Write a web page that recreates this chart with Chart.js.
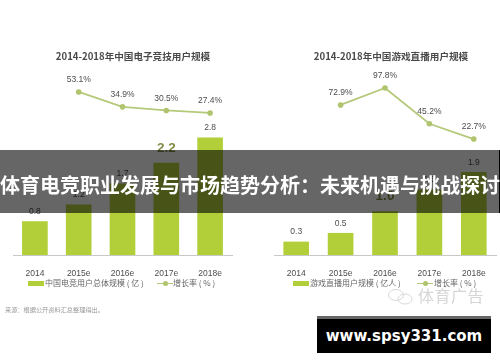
<!DOCTYPE html>
<html lang="zh-CN">
<head>
    <meta charset="UTF-8">
    <title>体育电竞职业发展与市场趋势分析</title>
    <script src="https://cdn.jsdelivr.net/npm/chart.js"></script>
    <style>
        html, body { margin: 0; padding: 0; background: #fff; }
        #page {
            position: relative; width: 500px; height: 362px; overflow: hidden;
            font-family: "Noto Sans CJK SC", "Noto Sans", sans-serif;
            filter: blur(0.4px);
        }
        canvas { position: absolute; top: 0; }
        .txt { position: absolute; white-space: nowrap; transform: translateY(-50%); line-height: 1; }
        .title { font-size: 9.6px; font-weight: 700; color: #4a4a4a; transform: translate(-50%, -50%); }
        .legend { font-size: 8px; color: #666; }
        .swatch { position: absolute; height: 5px; width: 16px; background: #b2cf3a; }
        .lineKey { position: absolute; height: 1.5px; width: 16px; background: #b5c97a; }
        .lineKey::after {
            content: ""; position: absolute; left: 5.5px; top: -2px; width: 5px; height: 5px;
            border-radius: 50%; background: #afc46c;
        }
        #band { position: absolute; left: 0; top: 150px; width: 500px; height: 63px; background: rgba(0, 0, 0, 0.6); }
        #bandEdge { position: absolute; left: 499px; top: 150px; width: 1px; height: 63px; background: #000; }
        #bandText {
            position: absolute; left: 0; top: 185px; width: 500px; text-align: center;
            font-size: 20px; font-weight: 700; color: #fff; line-height: 1; transform: translateY(-50%);
            white-space: nowrap;
        }
        #url {
            position: absolute; left: 317px; top: 316px; width: 174px; height: 34px;
            border-top: 3px solid #666; background: #000; color: #fff; text-align: center;
            font: 700 15px/34px "DejaVu Sans", sans-serif;
        }
        #mark { position: absolute; left: 418px; top: 295px; font-size: 16px; color: #d6d6d6; letter-spacing: 0.5px; line-height: 1; transform: translateY(-50%); white-space: nowrap; }
    </style>
</head>
<body>
<div id="page">
    <canvas id="leftChart" width="250" height="362" style="left:0"></canvas>
    <canvas id="rightChart" width="250" height="362" style="left:250px"></canvas>

    <div class="txt title" style="left:133px;top:57px">2014-2018年中国电子竞技用户规模</div>
    <div class="txt title" style="left:391px;top:57px">2014-2018年中国游戏直播用户规模</div>

    <div class="swatch" style="left:28px;top:281px"></div>
    <div class="txt legend" style="left:45px;top:283px">中国电竞用户总体规模 ( 亿 )</div>
    <div class="lineKey" style="left:157px;top:282.5px"></div>
    <div class="txt legend" style="left:173px;top:283px">增长率 ( % )</div>

    <div class="swatch" style="left:293px;top:281px"></div>
    <div class="txt legend" style="left:310px;top:283px">游戏直播用户规模 ( 亿人 )</div>
    <div class="lineKey" style="left:417px;top:282.5px"></div>
    <div class="txt legend" style="left:434px;top:283px">增长率 ( % )</div>

    <div class="txt" style="left:5px;top:310px;font-size:6.2px;color:#999">来源：根据公开资料汇总整理得出。</div>

    <svg style="position:absolute;left:387px;top:288px" width="28" height="18" fill="none" stroke="#d8d8d8" stroke-width="1">
        <ellipse cx="9" cy="7" rx="7.5" ry="5.5"/>
        <ellipse cx="18" cy="11" rx="7" ry="5"/>
    </svg>
    <div id="mark">体育广告</div>

    <div id="band"></div>
    <div id="bandEdge"></div>
    <div id="bandText">体育电竞职业发展与市场趋势分析：未来机遇与挑战探讨</div>
    <div id="url">www.spsy331.com</div>
</div>

<script>
    const categories = ["2014", "2015e", "2016e", "2017e", "2018e"];

    const esportsUsers = [0.8, 1.2, 1.7, 2.2, 2.8];
    const esportsGrowth = [null, 53.1, 34.9, 30.5, 27.4];

    const streamUsers = [0.3, 0.5, 1.0, 1.5, 1.9];
    const streamGrowth = [null, 72.9, 97.8, 45.2, 22.7];

    // writes the value above each bar and point
    const valueLabels = {
        id: "valueLabels",
        afterDatasetsDraw(chart) {
            const ctx = chart.ctx;
            ctx.save();
            ctx.textAlign = "center";
            ctx.textBaseline = "middle";
            chart.data.datasets.forEach((ds, i) => {
                chart.getDatasetMeta(i).data.forEach((el, j) => {
                    const v = ds.data[j];
                    if (v === null) return;
                    let big = ds.type === "bar" && ds.bigLabel === j;
                    ctx.font = big ? "700 13.5px 'Liberation Sans'" : "8.5px 'Liberation Sans'";
                    ctx.fillStyle = big ? "#7f8c45" : "#4d4d4d";
                    const text = ds.type === "bar" ? v.toFixed(1) : v.toFixed(1) + "%";
                    const gap = big ? 15 : ds.type === "bar" ? 10 : 12;
                    ctx.fillText(text, el.x, el.y - gap);
                });
            });
            ctx.restore();
        }
    };

    function drawPanel(id, users, growth, bigLabel, pad, barMax, lineMin, lineMax) {
        return new Chart(document.getElementById(id), {
            data: {
                labels: categories,
                datasets: [
                    {
                        type: "line", data: growth, yAxisID: "yLine",
                        borderColor: "#b5c97a", borderWidth: 1.8, tension: 0,
                        pointRadius: 2.8, pointBackgroundColor: "#afc46c", pointBorderWidth: 0
                    },
                    {
                        type: "bar", data: users, yAxisID: "yBar", bigLabel: bigLabel,
                        backgroundColor: "#b2cf3a", barThickness: 25
                    }
                ]
            },
            options: {
                responsive: false,
                animation: false,
                layout: { padding: { left: pad[0], right: pad[1], top: 40, bottom: 0 } },
                plugins: { legend: { display: false }, title: { display: false }, tooltip: { enabled: false } },
                scales: {
                    x: {
                        grid: { display: false },
                        border: { color: "#c8c8c8" },
                        ticks: { color: "#4d4d4d", font: { size: 8.5, family: "Liberation Sans" }, padding: 6, maxRotation: 0 },
                        afterFit(scale) { scale.height = 107; }
                    },
                    yBar: { display: false, min: 0, max: barMax },
                    yLine: { display: false, min: lineMin, max: lineMax }
                }
            },
            plugins: [valueLabels]
        });
    }

    drawPanel("leftChart", esportsUsers, esportsGrowth, 3, [13, 18], 5.14, -146.4, 116.7);
    drawPanel("rightChart", streamUsers, streamGrowth, 2, [24, 2], 4.94, -147.8, 168.4);
</script>
</body>
</html>
